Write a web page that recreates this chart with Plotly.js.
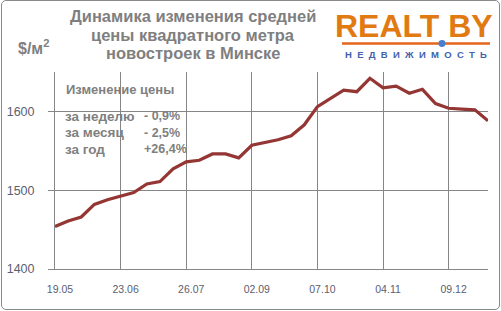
<!DOCTYPE html>
<html>
<head>
<meta charset="utf-8">
<script src="https://cdn.plot.ly/plotly-3.0.1.min.js"></script>
<style>
  html, body { margin: 0; padding: 0; background: #fff; }
  #wrap { position: relative; width: 501px; height: 311px; overflow: hidden; }
  #chart { position: absolute; left: 0; top: 0; width: 501px; height: 311px; }
  #frame { position: absolute; left: 1px; top: 0px; width: 497px; height: 308px;
           border: 1.5px solid #8a8a8a; border-radius: 5px; pointer-events: none; }
</style>
</head>
<body>
<div id="wrap"><div id="chart"></div><div id="frame"></div></div>
<script>
// Weekly average price per m² of new flats in Minsk, USD
const weekIndex = [0,1,2,3,4,5,6,7,8,9,10,11,12,13,14,15,16,17,18,19,20,21,22,23,24,25,26,27,28,29,30,31,32,33];
const prices = [1454,1461,1466,1482,1488,1493,1497,1508,1511,1527,1536,1538,1546,1546,1541,1557,1560,1564,1569,1583,
                1606,1617,1627,1625,1642,1630,1632,1623,1628,1610,1604,1603,1602,1588];
const tickIndex = [0,5,10,15,20,25,30];
const tickLabels = ['19.05','23.06','26.07','02.09','07.10','04.11','09.12'];
const yTicks = [1400,1500,1600];
const titleLines = ['Динамика изменения средней','цены квадратного метра','новостроек в Минске'];
const changeHeader = 'Изменение цены';
const changeLabels = ['за неделю','за месяц','за год'];
const changeValues = ['- 0,9%','- 2,5%','+26,4%'];

const L = 55, R = 488, T = 71.5, B = 269;
const W = 501, H = 311;
const px = x => (x - L) / (R - L);
const py = y => (B - y) / (B - T);

const grey = '#7f7f7f';
const FONT = 'Liberation Sans, Arial, sans-serif';
const annotations = [];

// title (three centred lines)
titleLines.forEach((t, i) => {
  annotations.push({xref:'paper', yref:'paper', x:px(193), y:py([15, 34, 52.5][i]), xanchor:'center', yanchor:'middle',
    text:t, showarrow:false, font:{family:FONT, size:16.5, color:grey, weight:'bold'}});
});

// Inset box text
annotations.push({xref:'paper', yref:'paper', x:px(63.5), y:py(89), xanchor:'left', yanchor:'middle',
  text:changeHeader, showarrow:false, font:{family:FONT, size:13, color:grey, weight:'bold'}});
changeLabels.forEach((t, i) => {
  const yy = [115.7, 132.3, 149][i];
  annotations.push({xref:'paper', yref:'paper', x:px(63), y:py(yy), xanchor:'left', yanchor:'middle',
    text:t, showarrow:false, font:{family:FONT, size:13.5, color:grey, weight:'bold'}});
  annotations.push({xref:'paper', yref:'paper', x:px(141.5), y:py(yy), xanchor:'left', yanchor:'middle',
    text:changeValues[i], showarrow:false, font:{family:FONT, size:12.5, color:grey, weight:'bold'}});
});

// unit label
annotations.push({xref:'paper', yref:'paper', x:px(16), y:py(46), xanchor:'left', yanchor:'middle',
  text:'$/м<sup>2</sup>', showarrow:false, font:{family:FONT, size:16, color:grey, weight:'bold'}});

// logo
annotations.push({xref:'paper', yref:'paper', x:px(414), y:py(25), xanchor:'center', yanchor:'middle',
  text:'REALT BY', showarrow:false, font:{family:FONT, size:32, color:'#e27a12', weight:'bold'}});
annotations.push({xref:'paper', yref:'paper', x:px(416), y:py(54), xanchor:'center', yanchor:'middle',
  text:'НЕДВИЖИМОСТЬ'.split('').join('\u00A0\u00A0'), showarrow:false,
  font:{family:FONT, size:9.5, color:'#3f62ad', weight:'bold'}});

const shapes = [
  {type:'line', xref:'paper', yref:'paper', x0:px(342), x1:px(490), y0:py(43), y1:py(43),
   line:{color:'#e4661c', width:2.5}},
  {type:'circle', xref:'paper', yref:'paper', x0:px(438.5), x1:px(445.5), y0:py(39.5), y1:py(46.5),
   fillcolor:'#4a7fd0', line:{color:'#4a7fd0', width:0}}
];

const trace = {
  x: weekIndex, y: prices, type:'scatter', mode:'lines',
  line:{color:'#943634', width:3.2}, hoverinfo:'skip'
};

const layout = {
  width: W, height: H,
  margin: {l: L, r: W - R, t: T, b: H - B, pad: 0},
  paper_bgcolor: '#fff', plot_bgcolor: '#fff',
  showlegend: false,
  xaxis: {
    range:[0, 33], tickmode:'array', tickvals: tickIndex, ticktext: tickLabels,
    showgrid:true, gridcolor:'#868686', gridwidth:1,
    showline:true, linecolor:'#868686', linewidth:1,
    ticks:'', ticklabelstandoff: 10, ticklabelshift: 5,
    tickfont:{family:FONT, size:10.5, color:'#5a6070'},
    zeroline:false, fixedrange:true
  },
  yaxis: {
    range:[1400, 1650], tickmode:'array', tickvals: yTicks,
    showgrid:true, gridcolor:'#868686', gridwidth:1,
    showline:true, linecolor:'#868686', linewidth:1,
    ticks:'outside', ticklen:6, tickcolor:'#868686', ticklabelstandoff: 11,
    tickfont:{family:FONT, size:12.5, color:'#5a6070'},
    zeroline:false, fixedrange:true
  },
  annotations, shapes
};

Plotly.newPlot('chart', [trace], layout, {displayModeBar:false, staticPlot:true});
</script>
</body>
</html>
